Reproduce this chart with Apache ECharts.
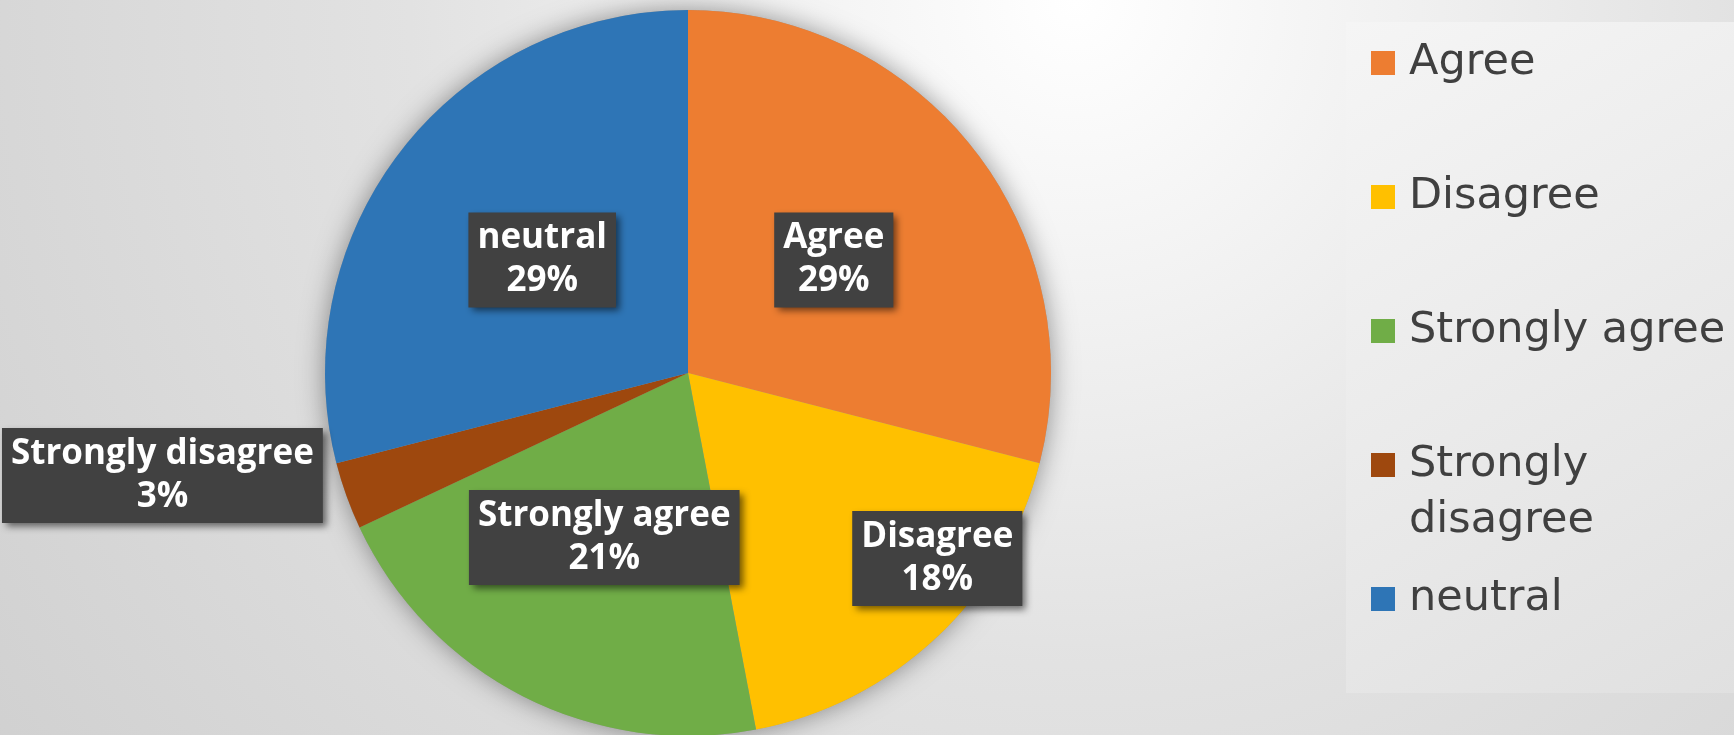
<!DOCTYPE html>
<html>
<head>
<meta charset="utf-8">
<title>Survey responses</title>
<script src="https://cdn.jsdelivr.net/npm/echarts@6/dist/echarts.min.js"></script>
<style>
  html, body { margin: 0; padding: 0; }
  body {
    width: 1734px; height: 735px; overflow: hidden;
    background: radial-gradient(circle 1330px at 1075px 0px, #ffffff 0%, #e2e2e2 50%, #d0d0d0 100%);
  }
  #chart { width: 1734px; height: 735px; }
</style>
</head>
<body>
<div id="chart"></div>
<script>
// Response categories, in the order the slices run clockwise from 12 o'clock
const categories = ['Agree', 'Disagree', 'Strongly agree', 'Strongly disagree', 'neutral'];
// Share of responses (%)
const shares = [29, 18, 21, 3, 29];
// Slice colours
const colors = ['#ED7D31', '#FFC000', '#70AD47', '#9E480E', '#2E75B6'];

const pieCenter = [688, 373];
const pieRadius = 363;

// Label nudges for slices whose callout sits away from the slice centre
const labelShift = {
  'Disagree': [123, 51],
  'Strongly disagree': [-352, 40]
};

const legendFont = 'DejaVu Sans';
const legendLine = 56;
const legendStep = 134;
const legendFirstCenter = 63;

// One legend per entry so the wrapped entry keeps its marker on the first line
const legends = categories.map((name, i) => {
  const twoLine = name === 'Strongly disagree';
  const centerY = legendFirstCenter + legendStep * i;
  return {
    data: [name],
    orient: 'vertical',
    left: 1371,
    // the wrapped entry gets a blank leading line so its marker centres on "Strongly"
    top: twoLine ? centerY - legendLine * 1.5 : centerY - legendLine / 2,
    padding: 0,
    icon: 'rect',
    itemWidth: 24,
    itemHeight: 24,
    selectedMode: false,
    formatter: twoLine ? ' \nStrongly\ndisagree' : '{name}',
    textStyle: {
      fontFamily: legendFont,
      fontSize: 43,
      lineHeight: legendLine,
      color: '#404040',
      padding: [0, 0, 0, 9]
    }
  };
});

const chart = echarts.init(document.getElementById('chart'), null, { renderer: 'canvas' });

chart.setOption({
  backgroundColor: 'transparent',
  animation: false,
  color: colors,
  graphic: [{
    type: 'rect',
    z: 0,
    shape: { x: 1346, y: 22, width: 400, height: 671 },
    style: {
      fill: {
        type: 'linear', x: 0, y: 0, x2: 1, y2: 1,
        colorStops: [
          { offset: 0, color: '#f5f5f5' },
          { offset: 1, color: '#e0e0e0' }
        ]
      }
    }
  }],
  legend: legends,
  series: [
    {
      // soft drop shadow behind the whole pie
      type: 'pie',
      silent: true,
      z: 1,
      center: pieCenter,
      radius: pieRadius,
      label: { show: false },
      labelLine: { show: false },
      itemStyle: {
        color: '#9a9a9a',
        shadowBlur: 26,
        shadowColor: 'rgba(0,0,0,0.4)'
      },
      data: [{ name: '_shadow', value: 1 }]
    },
    {
      type: 'pie',
      z: 2,
      center: pieCenter,
      radius: pieRadius,
      startAngle: 90,
      clockwise: true,
      avoidLabelOverlap: false,
      itemStyle: { borderWidth: 0 },
      label: {
        show: true,
        position: 'inside',
        formatter: p => p.name + '\n' + Math.round(p.percent) + '%',
        fontFamily: 'Open Sans',
        fontWeight: 'bold',
        fontSize: 35,
        lineHeight: 43,
        color: '#ffffff',
        align: 'center',
        backgroundColor: '#414141',
        padding: [9, 9, 0, 9],
        shadowColor: 'rgba(0,0,0,0.55)',
        shadowBlur: 7,
        shadowOffsetX: 4,
        shadowOffsetY: 4
      },
      labelLine: { show: false },
      labelLayout: params => {
        const s = labelShift[categories[params.dataIndex]];
        return s ? { dx: s[0], dy: s[1] } : {};
      },
      emphasis: { disabled: true },
      data: categories.map((name, i) => ({ name, value: shares[i] }))
    }
  ]
});
</script>
</body>
</html>
